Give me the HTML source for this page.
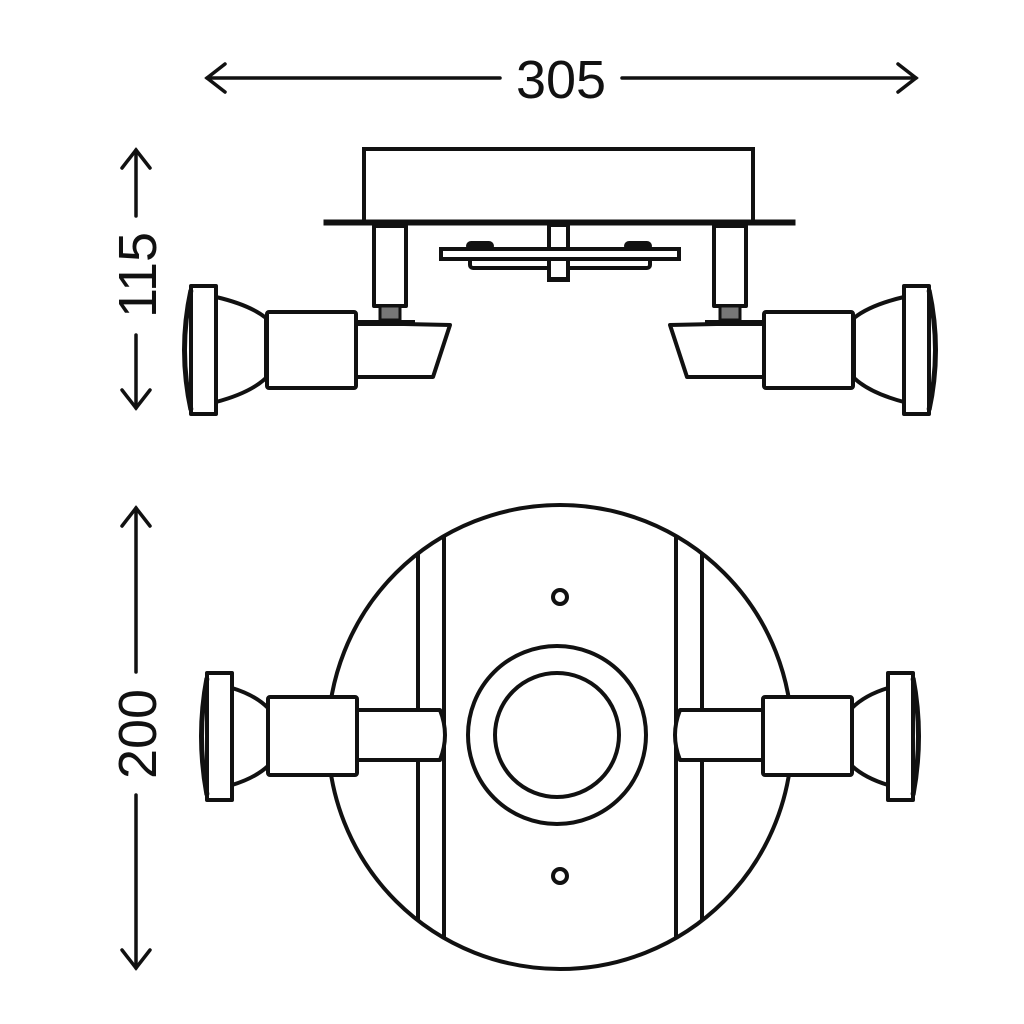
<!DOCTYPE html>
<html><head><meta charset="utf-8"><style>html,body{margin:0;padding:0;background:#fff}svg{display:block}</style></head>
<body>
<svg width="1024" height="1024" viewBox="0 0 1024 1024" xmlns="http://www.w3.org/2000/svg">
<defs>
<clipPath id="cc"><circle cx="560" cy="737" r="232"/></clipPath>
<g id="topLamp" fill="#fff" stroke="#111" stroke-width="4" stroke-linejoin="round">
  <rect x="374" y="226" width="32" height="80"/>
  <rect x="380" y="306" width="20" height="14" fill="#777" stroke-width="3"/>
  <path d="M355 323 L450 325 L433 377 L355 377 Z"/>
  <line x1="357" y1="323" x2="415" y2="323" stroke-width="6"/>
  <path d="M216 297 Q250 305 266 318 L266 378 Q250 393 216 402 Z"/>
  <rect x="267" y="312" width="89" height="76" rx="2"/>
  <rect x="191" y="286" width="25" height="128"/>
  <path d="M191 290 Q178 350 191 410" fill="none" stroke-width="5"/>
</g>
<g id="botLamp" fill="#fff" stroke="#111" stroke-width="4" stroke-linejoin="round">
  <path d="M357 710 L440 710 Q450 735 440 760 L357 760 Z"/>
  <path d="M232 688 Q255 695 268 708 L268 766 Q255 778 232 785 Z"/>
  <rect x="268" y="697" width="89" height="78" rx="2"/>
  <rect x="207" y="673" width="25" height="127"/>
  <path d="M207 678 Q196 736 207 795" fill="none" stroke-width="5"/>
</g>
</defs>

<g stroke="#111" stroke-width="3.5" fill="none" stroke-linecap="round">
  <line x1="207" y1="78" x2="500" y2="78"/>
  <line x1="622" y1="78" x2="916" y2="78"/>
  <polyline points="225,64 207,78 225,92"/>
  <polyline points="898,64 916,78 898,92"/>
  <line x1="136" y1="150" x2="136" y2="216"/>
  <line x1="136" y1="335" x2="136" y2="408"/>
  <polyline points="122,168 136,150 150,168"/>
  <polyline points="122,390 136,408 150,390"/>
  <line x1="136" y1="508" x2="136" y2="672"/>
  <line x1="136" y1="795" x2="136" y2="968"/>
  <polyline points="122,526 136,508 150,526"/>
  <polyline points="122,950 136,968 150,950"/>
</g>
<g font-family="Liberation Sans, sans-serif" font-size="54" fill="#111" text-anchor="middle">
  <text x="561" y="98">305</text>
  <text transform="translate(156,275) rotate(-90)">115</text>
  <text transform="translate(156,734) rotate(-90)">200</text>
</g>

<g fill="#fff" stroke="#111" stroke-width="4">
  <rect x="364" y="149" width="389" height="73"/>
  <rect x="324" y="220" width="471" height="5" fill="#111" stroke-width="1"/>
  <rect x="549" y="225" width="19" height="55"/>
  <rect x="470" y="256" width="180" height="12" rx="3"/>
  <rect x="441" y="249" width="238" height="10"/>
  <rect x="468" y="243" width="24" height="6" rx="3" fill="#111"/>
  <rect x="626" y="243" width="24" height="6" rx="3" fill="#111"/>
  <rect x="549" y="259" width="19" height="20"/>
</g>
<use href="#topLamp"/>
<use href="#topLamp" transform="translate(1120,0) scale(-1,1)"/>

<g fill="none" stroke="#111" stroke-width="4">
  <circle cx="560" cy="737" r="232"/>
  <g clip-path="url(#cc)">
    <line x1="418" y1="500" x2="418" y2="980"/>
    <line x1="444" y1="500" x2="444" y2="980"/>
    <line x1="676" y1="500" x2="676" y2="980"/>
    <line x1="702" y1="500" x2="702" y2="980"/>
  </g>
  <circle cx="557" cy="735" r="89"/>
  <circle cx="557" cy="735" r="62"/>
  <circle cx="560" cy="597" r="7"/>
  <circle cx="560" cy="876" r="7"/>
</g>
<use href="#botLamp"/>
<use href="#botLamp" transform="translate(1120,0) scale(-1,1)"/>
</svg>
</body></html>
